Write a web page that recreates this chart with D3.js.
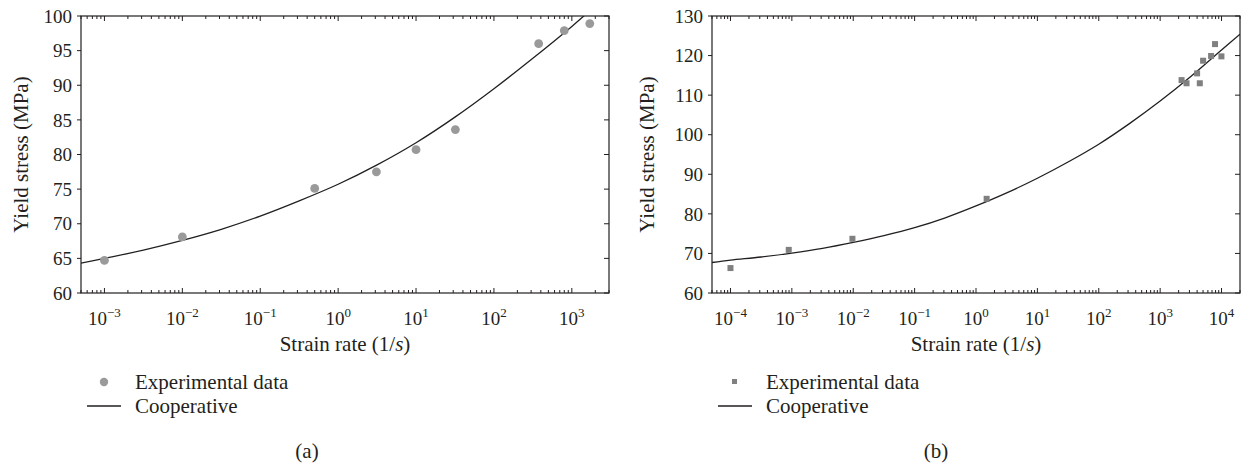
<!DOCTYPE html>
<html><head><meta charset="utf-8">
<script src="https://cdn.jsdelivr.net/npm/d3@7"></script>
<style>
body{margin:0;background:#fff}
text{font-family:"Liberation Serif","Times New Roman",serif;fill:#231f20}
</style>
</head><body>
<svg id="c" width="1246" height="472"></svg>
<script>
// ---- Panel (a) data ----
const aStrain = [0.001, 0.01, 0.5, 3.1, 10, 32, 375, 800, 1700];
const aStress = [64.7, 68.1, 75.1, 77.5, 80.7, 83.6, 96.0, 97.9, 98.9];
const aCurveStrain = [5e-4, 1e-3, 3.16e-3, 1e-2, 3.16e-2, 1e-1, 3.16e-1, 1, 3.16, 10, 31.6, 100, 316, 1000, 1600];
const aCurveStress = [64.3, 65.0, 66.2, 67.6, 69.2, 71.1, 73.3, 75.7, 78.5, 81.7, 85.4, 89.5, 93.9, 98.5, 100.5];
const aYTicks = [60, 65, 70, 75, 80, 85, 90, 95, 100];
const aXExps = [-3, -2, -1, 0, 1, 2, 3];

// ---- Panel (b) data ----
const bStrain = [1e-4, 8.9e-4, 0.0097, 1.49, 2234, 2692, 4000, 4428, 5010, 6760, 7840, 9960];
const bStress = [66.3, 70.9, 73.7, 83.8, 113.8, 113.0, 115.5, 113.0, 118.7, 119.9, 122.9, 119.8];
const bCurveStrain = [5e-5, 1e-4, 3.16e-4, 1e-3, 3.16e-3, 1e-2, 3.16e-2, 0.1, 0.316, 1, 3.16, 10, 31.6, 100, 316, 1000, 3160, 10000, 2e4];
const bCurveStress = [67.7, 68.3, 69.1, 70.1, 71.3, 72.8, 74.5, 76.5, 79.0, 82.0, 85.3, 89.0, 93.1, 97.6, 102.8, 108.5, 114.7, 121.4, 125.4];
const bYTicks = [60, 70, 80, 90, 100, 110, 120, 130];
const bXExps = [-4, -3, -2, -1, 0, 1, 2, 3, 4];

const labels = {
  y: "Yield stress (MPa)",
  xPre: "Strain rate (1/", xIt: "s", xPost: ")",
  exp: "Experimental data", coop: "Cooperative"
};

const svg = d3.select("#c");
const ink = "#231f20";
const LBL = 21;

function panel(cfg){
  const {x0, x1, y0, y1, xDom, yDom, strain, stress, cStrain, cStress, yTicks, xExps, marker, color, tag, legX, yLabX, tagX} = cfg;
  const x = d3.scaleLog().domain(xDom).range([x0, x1]);
  const y = d3.scaleLinear().domain(yDom).range([y1, y0]);
  const g = svg.append("g");

  // curve
  const pts = cStrain.map((s,i)=>[s,cStress[i]]);
  const clipId = "clip" + tag;
  svg.append("clipPath").attr("id", clipId).append("rect")
    .attr("x", x0).attr("y", y0).attr("width", x1-x0).attr("height", y1-y0);
  g.append("path").datum(pts)
    .attr("clip-path", `url(#${clipId})`)
    .attr("fill","none").attr("stroke", ink).attr("stroke-width",1.3)
    .attr("d", d3.line().x(d=>x(d[0])).y(d=>y(d[1])).curve(d3.curveCatmullRom.alpha(0.5)));

  // markers
  const data = strain.map((s,i)=>[s,stress[i]]);
  if (marker === "circle"){
    g.selectAll("circle.pt").data(data).enter().append("circle")
      .attr("cx", d=>x(d[0])).attr("cy", d=>y(d[1])).attr("r", 4.4).attr("fill", color);
  } else {
    g.selectAll("rect.pt").data(data).enter().append("rect")
      .attr("x", d=>x(d[0])-3).attr("y", d=>y(d[1])-3).attr("width",6).attr("height",6).attr("fill", color);
  }

  // frame
  g.append("rect").attr("x",x0).attr("y",y0).attr("width",x1-x0).attr("height",y1-y0)
    .attr("fill","none").attr("stroke",ink).attr("stroke-width",1.2);

  // x ticks (inward on bottom and top)
  const [lo, hi] = xDom.map(v=>Math.floor(Math.log10(v)));
  const ticks = [];
  for (let e=lo; e<=hi+1; e++) for (let m=1; m<=9; m++){
    const v = m*Math.pow(10,e);
    if (v>=xDom[0] && v<=xDom[1]) ticks.push({v, major: m===1});
  }
  ticks.forEach(t=>{
    const len = t.major ? 5 : 3;
    g.append("line").attr("x1",x(t.v)).attr("x2",x(t.v)).attr("y1",y1).attr("y2",y1-len).attr("stroke",ink).attr("stroke-width",1);
    g.append("line").attr("x1",x(t.v)).attr("x2",x(t.v)).attr("y1",y0).attr("y2",y0+len).attr("stroke",ink).attr("stroke-width",1);
  });
  // x tick labels
  xExps.forEach(e=>{
    const t = g.append("text").attr("x", x(Math.pow(10,e))).attr("y", y1+32)
      .attr("text-anchor","middle").attr("font-size",19);
    t.append("tspan").text("10");
    t.append("tspan").attr("dy",-8).attr("font-size",13).text(e<0 ? "\u2212"+(-e) : String(e));
  });

  // y ticks: left outward, right inward (both pointing left)
  yTicks.forEach(v=>{
    g.append("line").attr("x1",x0).attr("x2",x0-4).attr("y1",y(v)).attr("y2",y(v)).attr("stroke",ink).attr("stroke-width",1);
    g.append("line").attr("x1",x1).attr("x2",x1-5).attr("y1",y(v)).attr("y2",y(v)).attr("stroke",ink).attr("stroke-width",1);
    g.append("text").attr("x",x0-9).attr("y",y(v)).attr("dy","0.35em")
      .attr("text-anchor","end").attr("font-size",19).text(v);
  });

  // axis titles
  g.append("text").attr("transform",`translate(${yLabX},${(y0+y1)/2}) rotate(-90)`)
    .attr("text-anchor","middle").attr("dy","0.35em").attr("font-size",LBL).text(labels.y);
  const xt = g.append("text").attr("x",(x0+x1)/2).attr("y",y1+58).attr("text-anchor","middle").attr("font-size",LBL);
  xt.append("tspan").text(labels.xPre);
  xt.append("tspan").attr("font-style","italic").text(labels.xIt);
  xt.append("tspan").text(labels.xPost);

  // legend
  const ly1 = 382, ly2 = 406;
  if (marker === "circle"){
    g.append("circle").attr("cx",legX+17).attr("cy",ly1).attr("r",4.2).attr("fill",color);
  } else {
    g.append("rect").attr("x",legX+14).attr("y",ly1-3).attr("width",5).attr("height",5).attr("fill",color);
  }
  g.append("line").attr("x1",legX).attr("x2",legX+34).attr("y1",ly2).attr("y2",ly2).attr("stroke",ink).attr("stroke-width",1.3);
  g.append("text").attr("x",legX+48).attr("y",ly1).attr("dy","0.35em").attr("font-size",LBL).text(labels.exp);
  g.append("text").attr("x",legX+48).attr("y",ly2).attr("dy","0.35em").attr("font-size",LBL).text(labels.coop);

  // panel tag
  g.append("text").attr("x",tagX).attr("y",451).attr("dy","0.35em").attr("text-anchor","middle").attr("font-size",LBL).text(`(${tag})`);
}

panel({x0:81, x1:609, y0:16, y1:293, xDom:[5e-4, 3000], yDom:[60,100],
  strain:aStrain, stress:aStress, cStrain:aCurveStrain, cStress:aCurveStress,
  yTicks:aYTicks, xExps:aXExps, marker:"circle", color:"#9a9a9a", tag:"a", legX:87, yLabX:21, tagX:307});
panel({x0:712, x1:1240, y0:16, y1:293, xDom:[5e-5, 2e4], yDom:[60,130],
  strain:bStrain, stress:bStress, cStrain:bCurveStrain, cStress:bCurveStress,
  yTicks:bYTicks, xExps:bXExps, marker:"square", color:"#808080", tag:"b", legX:718, yLabX:647, tagX:936});
</script>
</body></html>
